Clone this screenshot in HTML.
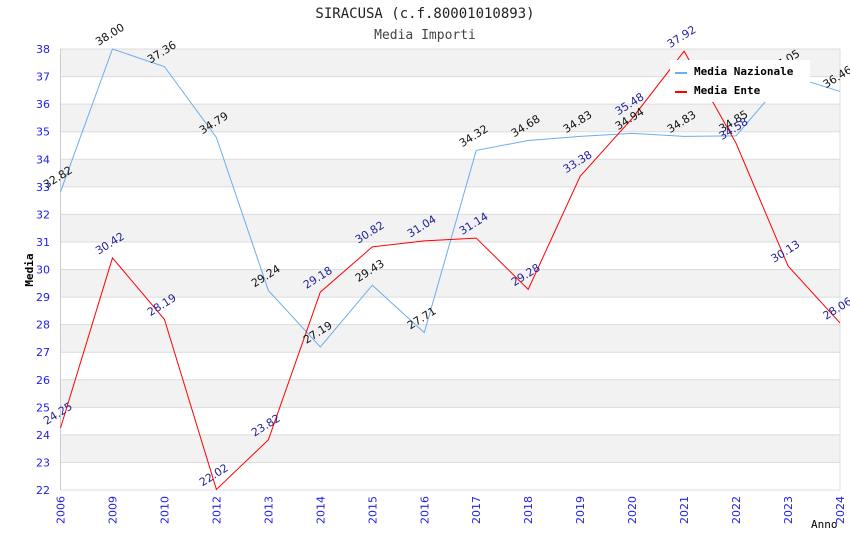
<!DOCTYPE html>
<html><head><meta charset="utf-8"><style>
body{margin:0;background:#fff;}
svg{display:block;font-family:"DejaVu Sans","Liberation Sans",sans-serif;}
</style></head><body>
<svg id="chart" width="850" height="550">
<text x="425" y="18" text-anchor="middle" font-family="DejaVu Sans Mono,monospace" font-size="14" fill="#222">SIRACUSA (c.f.80001010893)</text>
<text x="425" y="39" text-anchor="middle" font-family="DejaVu Sans Mono,monospace" font-size="13" fill="#444">Media Importi</text>
<g id="bands"></g><g id="grid"></g><g id="axes"></g><g id="series"></g><g id="labels"></g>
<text x="33" y="270" transform="rotate(-90 33 270)" text-anchor="middle" font-family="DejaVu Sans Mono,monospace" font-size="11" font-weight="bold" fill="#000">Media</text>
<text x="811" y="528" font-family="DejaVu Sans Mono,monospace" font-size="11" fill="#000">Anno</text>
<g>
<rect x="670" y="60" width="140" height="42" fill="#fff"/>
<g><line x1="675" y1="73" x2="687" y2="73" stroke="#6aaeee" stroke-width="2"/><text x="694" y="75" font-family="DejaVu Sans Mono,monospace" font-size="11" font-weight="bold">Media Nazionale</text></g>
<g><line x1="675" y1="92" x2="687" y2="92" stroke="#f00" stroke-width="2"/><text x="694" y="94" font-family="DejaVu Sans Mono,monospace" font-size="11" font-weight="bold">Media Ente</text></g>
</g>
</svg>
<script>
const categories=["2006","2009","2010","2012","2013","2014","2015","2016","2017","2018","2019","2020","2021","2022","2023","2024"];
const nazionale=[32.82,38.00,37.36,34.79,29.24,27.19,29.43,27.71,34.32,34.68,34.83,34.94,34.83,34.85,37.05,36.46];
const ente=[24.25,30.42,28.19,22.02,23.82,29.18,30.82,31.04,31.14,29.28,33.38,35.48,37.92,34.58,30.13,28.06];
const yTicks=[22,23,24,25,26,27,28,29,30,31,32,33,34,35,36,37,38];
const L=60.5,R=840,T=49,B=490,ymin=22,ymax=38;
const NS="http://www.w3.org/2000/svg";
const xs=i=>L+(R-L)*i/(categories.length-1);
const ys=v=>B-(v-ymin)/(ymax-ymin)*(B-T);
function mk(tag,attrs,parent,text){const e=document.createElementNS(NS,tag);for(const k in attrs)e.setAttribute(k,attrs[k]);if(text!==undefined)e.textContent=text;document.getElementById(parent).appendChild(e);return e;}
for(let v=ymin;v<ymax;v++){if(v%2===1){const b=mk('rect',{x:L,y:ys(v+1),width:R-L,height:ys(v)-ys(v+1),fill:'#f2f2f2'},'bands');

}}
yTicks.forEach(v=>{const g=mk('line',{x1:L,x2:R,y1:ys(v),y2:ys(v),stroke:'#dcdcdc','stroke-width':1},'grid');


const t=mk('text',{x:50,y:ys(v)+4,'text-anchor':'end','font-size':11,fill:'#2020ee'},'axes',String(v));

});
mk('line',{x1:L,x2:L,y1:T,y2:B,stroke:'#ccc'},'axes');
mk('line',{x1:R,x2:R,y1:T,y2:B,stroke:'#ddd'},'axes');
categories.forEach((c,i)=>{const x=xs(i)+4;const t=mk('text',{x:x,y:496,transform:`rotate(-90 ${x} 496)`,'text-anchor':'end','font-size':11,fill:'#2020ee'},'axes',c);

});
function series(data,color,lc,name){const p=mk('polyline',{points:data.map((v,i)=>xs(i)+','+ys(v)).join(' '),fill:'none',stroke:color,'stroke-width':1},'series');


data.forEach((v,i)=>{const x=xs(i)-14,y=ys(v)-3;const t=mk('text',{x:x,y:y,transform:`rotate(-32 ${x} ${y})`,'font-size':11,fill:lc},'labels',v.toFixed(2));

});}
series(nazionale,'#6aaeee','#111','nazionale');
series(ente,'#f00','#22229a','ente');
</script>
</body></html>
